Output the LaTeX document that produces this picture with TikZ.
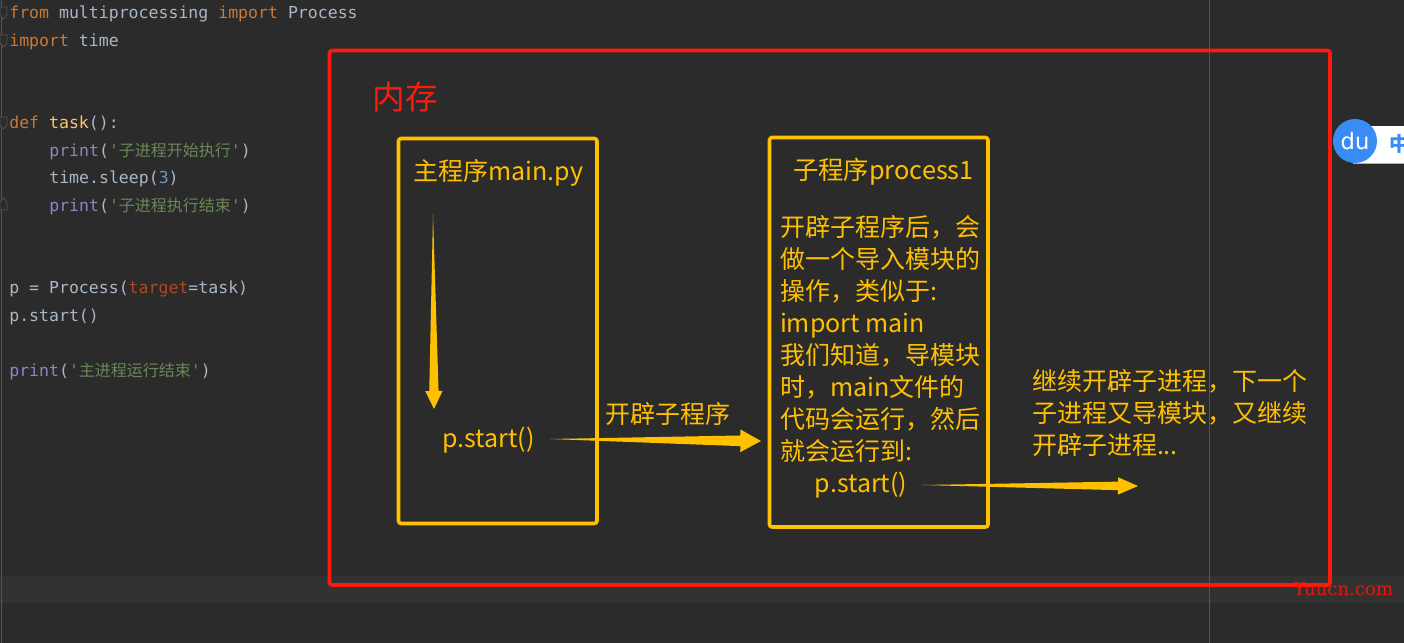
\documentclass[tikz,border=0pt]{standalone}
\usepackage{fontspec}
\setmainfont{Noto Sans CJK SC}
\setmonofont{DejaVu Sans Mono}
\newfontfamily\cjkfont{Noto Sans CJK SC}
\newfontfamily\wmfont{DejaVu Serif}
\newfontfamily\dufont{DejaVu Sans}
\usetikzlibrary{calc}
\definecolor{bgdark}{HTML}{2B2B2B}
\definecolor{bandline}{HTML}{323232}
\definecolor{guide}{HTML}{555555}
\definecolor{redframe}{HTML}{FF1A0E}
\definecolor{amber}{HTML}{FFC000}
\definecolor{kw}{HTML}{CC7832}
\definecolor{plain}{HTML}{A9B7C6}
\definecolor{fn}{HTML}{FFC66D}
\definecolor{bi}{HTML}{8888C6}
\definecolor{str}{HTML}{6A8759}
\definecolor{num}{HTML}{6897BB}
\definecolor{par}{HTML}{AA4926}
\definecolor{dublue}{HTML}{3A8CF5}
\newcommand{\cjkc}[1]{{\cjkfont\fontsize{12}{12}\selectfont #1}}
\newcommand{\taperarrow}[5]{%
  \coordinate (tbase) at ($(#2)!#3!(#1)$);
  \fill[amber] (#1)
    -- ($(tbase)!#5!90:(#2)$)
    -- ($(tbase)!#4!90:(#2)$)
    -- (#2)
    -- ($(tbase)!#4!-90:(#2)$)
    -- ($(tbase)!#5!-90:(#2)$) -- cycle;}
\tikzset{
  codeline/.style={anchor=base west,inner sep=0pt,outer sep=0pt,text=plain,font=\ttfamily\fontsize{12.4}{14}\selectfont},
  memframe/.style={draw=redframe,line width=2.7pt,rounded corners=2pt},
  progbox/.style={draw=amber,line width=2.7pt,rounded corners=2pt},
  amberlabel/.style={inner sep=0pt,outer sep=0pt,text=amber,font=\fontsize{18.75}{24}\selectfont},
  blocktext/.style={amberlabel,anchor=north west,align=left},
  foldmark/.style={draw=guide,line width=0.6pt,fill=bgdark}
}
\begin{document}
\begin{tikzpicture}[x=0.75pt,y=-0.75pt]
\useasboundingbox (0,0) rectangle (1404,643);
\fill[bgdark] (0,0) rectangle (1404,643);
\fill[bandline] (0,576) rectangle (1404,603);
\draw[guide,line width=0.75pt] (1209,0) -- (1209,643);
\draw[guide,line width=0.75pt] (1.5,0) -- (1.5,643);
% fold marks
\foreach \yy in {12,40,122}
  \draw[foldmark] (0,\yy-5) -- (7,\yy-5) -- (7,\yy+3) -- (3.5,\yy+7) -- (0,\yy+3) -- cycle;
\draw[foldmark] (0,210) -- (7,210) -- (7,202) -- (3.5,198) -- (0,202) -- cycle;
% code
\node[codeline] (c1) at (9.3,18) {\textcolor{kw}{from} multiprocessing \textcolor{kw}{import} Process};
\node[codeline] (c2) at (9.3,46) {\textcolor{kw}{import} time};
\node[codeline] (c3) at (9.3,128) {\textcolor{kw}{def} \textcolor{fn}{task}():};
\node[codeline] (c4) at (49.3,156) {\textcolor{bi}{print}(\textcolor{str}{'\cjkc{子进程开始执行}'})};
\node[codeline] (c5) at (49.3,183) {time.sleep(\textcolor{num}{3})};
\node[codeline] (c6) at (49.3,211) {\textcolor{bi}{print}(\textcolor{str}{'\cjkc{子进程执行结束}'})};
\node[codeline] (c7) at (9.3,293) {p = Process(\textcolor{par}{target}=task)};
\node[codeline] (c8) at (9.3,321) {p.start()};
\node[codeline] (c9) at (9.3,376) {\textcolor{bi}{print}(\textcolor{str}{'\cjkc{主进程运行结束}'})};
% frames
\draw[memframe] (329.5,50.5) rectangle (1330,585);
\draw[progbox] (398.5,138.5) rectangle (597,523.5);
\draw[progbox] (769.5,137.5) rectangle (988,527);
\node[inner sep=0pt,text=redframe,font=\fontsize{24.5}{28}\selectfont] (mem) at (405.5,97) {内存};
% box 1
\node[amberlabel] (t1) at (498.5,173) {主程序main.py};
\node[amberlabel] (s1) at (488.5,440) {p.start()};
% box 2
\node[amberlabel,font=\fontsize{19}{24}\selectfont] (t2) at (883.5,172) {子程序process1};
\node[blocktext] (b2) at (780,215.5) {开辟子程序后，会\\做一个导入模块的\\操作，类似于:\\import main\\我们知道，导模块\\时，main文件的\\代码会运行，然后\\就会运行到:};
\node[amberlabel] (s2) at (861,485) {p.start()};
% labels
\node[amberlabel] (l1) at (667.5,414) {开辟子程序};
\node[blocktext] (l2) at (1032,369) {继续开辟子进程，下一个\\子进程又导模块，又继续\\开辟子进程...};
% arrows
\coordinate (a1s) at (433,214);
\coordinate (a1e) at (434,409);
\coordinate (a2s) at (550,439);
\coordinate (a2e) at (761,441);
\coordinate (a3s) at (922,485);
\coordinate (a3e) at (1138,486);
\taperarrow{a1s}{a1e}{13.5pt}{6.5pt}{3.5pt}
\taperarrow{a2s}{a2e}{15.5pt}{8.5pt}{4pt}
\taperarrow{a3s}{a3e}{15pt}{6.5pt}{3.2pt}
% badge
\fill[white] (1353,126) rectangle (1404,163);
\fill[dublue!60!white] (1353,162.5) rectangle (1404,163.5);
\fill[dublue] (1355,141) circle[radius=22];
\node[inner sep=0pt,text=white,font=\dufont\fontsize{17}{17}\selectfont] (du) at (1355,141) {du};
\node[inner sep=0pt,text=dublue,anchor=west,font=\bfseries\fontsize{15}{15}\selectfont] (zh) at (1389,144) {中};
% watermark
\node[inner sep=0pt,text=redframe!90!black,font=\wmfont\fontsize{13.6}{14}\selectfont] (wm) at (1343.5,589) {Yuucn.com};
\end{tikzpicture}
\end{document}
